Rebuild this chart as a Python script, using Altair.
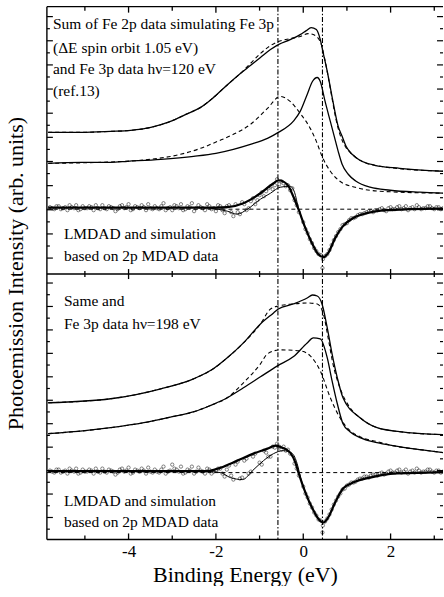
import altair as alt
import pandas as pd

FONT = "Liberation Serif"
XMIN, XMAX = -5.87, 3.2
OFF = 26.6          # height (intensity units) of the lower panel; upper panel is stacked above it
YMAX = 53.4

# ---------------- upper panel (Fe 3p hv=120 eV) ----------------
T1_E = [-5.84,-5.09,-4.41,-3.95,-3.49,-3.04,-2.69,-2.35,-2.08,-1.78,-1.44,-1.21,-0.98,-0.75,-0.57,-0.30,-0.07,0.07,0.18,0.30,0.39,0.46,0.55,0.68,0.80,0.89,0.98,1.12,1.30,1.64,2.21,3.22]
T1_I = [14.2,14.2,14.3,14.4,14.7,15.3,16.0,16.7,17.6,18.8,20.1,20.9,21.7,22.5,23.0,23.5,24.0,24.4,24.7,24.5,23.5,22.1,20.3,17.3,14.8,13.8,12.8,12.0,11.4,10.9,10.6,10.3]
T1D_E = [-5.84,-5.09,-4.41,-3.95,-3.49,-3.04,-2.69,-2.35,-2.08,-1.78,-1.44,-1.21,-0.98,-0.75,-0.57,-0.30,-0.07,0.11,0.23,0.39,0.48,0.57,0.66,0.75,0.84,0.96,1.12,1.30,1.76,3.22]
T1D_I = [14.2,14.2,14.3,14.4,14.7,15.3,16.0,16.7,17.6,18.8,20.1,21.1,22.1,22.9,23.3,23.6,23.8,24.1,24.0,23.3,21.8,19.8,17.6,15.5,14.0,12.8,12.0,11.4,10.8,10.3]
T2_E = [-5.84,-5.09,-4.41,-4.02,-3.26,-2.51,-2.0,-1.60,-1.21,-0.82,-0.57,-0.23,-0.07,0.09,0.21,0.32,0.39,0.50,0.62,0.71,0.80,0.89,1.03,1.21,1.53,1.99,2.67,3.22]
T2_I = [11.1,11.2,11.2,11.3,11.5,11.8,12.1,12.5,13.0,13.6,14.2,15.3,16.3,18.0,19.3,19.7,19.3,17.3,15.3,13.8,12.3,11.0,10.0,9.3,8.7,8.4,8.2,8.1]
T2D_E = [-5.84,-4.63,-3.49,-2.81,-2.35,-1.96,-1.60,-1.21,-0.82,-0.53,-0.30,-0.07,0.16,0.30,0.43,0.62,0.84,1.19,1.76,3.22]
T2D_I = [11.1,11.2,11.5,12.0,12.6,13.3,14.0,15.0,16.6,17.8,17.3,16.1,14.6,13.3,11.8,10.3,9.3,8.7,8.3,8.1]
TSIM_E = [-5.84,-2.0,-1.74,-1.37,-0.98,-0.68,-0.57,-0.37,-0.23,-0.11,0.05,0.21,0.34,0.46,0.57,0.73,0.91,1.14,1.46,1.92,2.44,3.22]
TSIM_I = [6.65,6.65,6.7,7.1,8.1,9.1,9.4,9.0,7.8,6.5,4.6,3.0,2.0,1.7,2.1,3.6,4.8,5.6,6.1,6.4,6.5,6.55]
TDAT_E = [-2.3,-2.12,-1.74,-1.51,-1.28,-0.98,-0.75,-0.53,-0.30,-0.20,-0.11,0.05]
TDAT_I = [6.65,6.6,6.3,6.0,6.5,7.5,8.1,8.7,8.8,8.2,6.6,4.6]
TCIRC_E = [-5.8,-5.7,-5.6,-5.5,-5.4,-5.3,-5.2,-5.1,-5.0,-4.9,-4.8,-4.7,-4.6,-4.5,-4.4,-4.3,-4.2,-4.1,-4.0,-3.9,-3.8,-3.7,-3.6,-3.5,-3.4,-3.3,-3.2,-3.1,-3.0,-2.9,-2.8,-2.7,-2.6,-2.5,-2.4,-2.3,-2.2,-2.1,-2.0,-1.9,-1.8,-1.7,-1.6,-1.5,-1.4,-1.3,-1.2,-1.1,-1.0,-0.9,-0.8,-0.7,-0.6,-0.5,-0.4,-0.3,-0.2,-0.1,0.0,0.1,0.2,0.3,0.4,0.5,0.6,0.7,0.8,0.9,1.0,1.1,1.2,1.3,1.4,1.5,1.6,1.7,1.8,1.9,2.0,2.1,2.2,2.3,2.4,2.5,2.6,2.7,2.8,2.9,3.0,3.1,3.2,
           -0.55,0.45,0.44,-0.25,-1.45,-1.05,-0.65,-0.35,-0.15,0.05,0.15,0.25,0.35,0.55,0.65,0.75,0.85,0.95,
           -5.75,-5.65,-5.55,-5.45,-5.35,-5.25,-5.15,-5.05,-4.95,-4.85,-4.75,-4.65,-4.55,-4.45,-4.35,-4.25,-4.15,-4.05,-3.95,-3.85,-3.75,-3.65,-3.55,-3.45,-3.35,-3.25,-3.15,-3.05,-2.95,-2.85,-2.75,-2.65,-2.55,-2.45,-2.35,-2.25,-2.15,-2.05,-1.95,-1.85,-1.75,-1.65,-1.55,-1.35,-1.25,-1.15,-0.95,-0.85,-0.75,-0.45,
           1.05,1.15,1.25,1.35,1.45,1.55,1.65,1.75,1.85,1.95,2.05,2.15,2.25,2.35,2.45,2.55,2.65,2.75,2.85,2.95,3.05,3.15]
TCIRC_I = [6.7,6.5,6.8,6.6,6.4,6.7,6.9,6.5,6.6,6.8,6.4,6.6,6.9,6.5,6.7,6.3,6.8,6.6,7.0,6.5,6.7,6.9,6.4,6.6,6.8,6.5,7.1,6.6,6.4,6.8,7.0,6.5,6.7,6.3,6.9,6.6,7.0,6.5,6.3,6.8,6.1,6.9,5.8,6.2,7.2,6.4,7.3,7.0,7.9,7.8,8.6,8.5,9.5,9.3,8.8,8.4,7.4,6.2,5.2,4.1,3.1,2.3,1.9,1.8,2.4,3.4,4.2,4.9,5.1,5.6,5.7,6.0,6.1,6.3,6.2,6.4,6.6,6.3,6.7,6.5,6.8,6.6,6.4,6.7,6.9,6.5,6.6,6.8,6.5,6.7,6.6,
           9.0,1.5,0.6,8.6,6.0,7.4,8.9,8.9,6.9,4.5,3.5,2.6,2.0,2.0,2.9,3.8,4.5,5.0,
           6.6,6.8,6.5,6.7,6.9,6.6,6.4,6.8,6.6,6.7,6.9,6.5,6.6,6.8,6.6,6.5,6.9,6.7,6.4,6.8,6.6,6.7,7.0,6.5,6.6,6.8,6.4,6.7,6.9,6.6,6.4,6.8,7.1,6.6,6.7,6.4,6.8,6.6,6.9,6.4,6.8,6.2,7.0,7.0,6.6,7.6,8.2,8.3,8.8,9.1,
           5.4,5.6,5.9,6.0,6.2,6.3,6.4,6.5,6.4,6.6,6.5,6.7,6.5,6.8,6.6,6.5,6.7,6.6,6.8,6.6,6.7,6.5]
T_BASE = [6.5]

# ---------------- lower panel (Fe 3p hv=198 eV) ----------------
B1_E = [-5.84,-4.41,-3.26,-2.51,-2.06,-1.74,-1.37,-0.98,-0.68,-0.57,-0.23,0.09,0.21,0.32,0.43,0.55,0.66,0.78,0.91,1.30,1.69,2.21,3.22]
B1_I = [13.7,14.1,15.1,16.1,17.1,18.2,19.7,21.6,22.7,23.1,23.6,24.2,24.5,24.4,23.6,21.2,18.6,16.2,14.2,12.2,11.2,10.8,10.5]
B1D_E = [-5.84,-4.41,-3.26,-2.51,-2.06,-1.74,-1.37,-0.98,-0.75,-0.57,-0.23,0.09,0.32,0.46,0.57,0.68,0.84,1.07,1.30,1.69,2.21,3.22]
B1D_I = [13.7,14.1,15.1,16.1,17.1,18.2,19.7,21.6,23.1,23.4,23.6,23.7,23.6,22.6,20.2,17.6,15.2,13.2,12.2,11.2,10.8,10.5]
B2_E = [-5.84,-5.0,-4.41,-3.65,-3.0,-2.5,-2.14,-1.74,-1.37,-0.98,-0.59,-0.23,0.09,0.23,0.39,0.55,0.66,0.78,0.91,1.07,1.30,1.69,2.05,2.67,3.22]
B2_I = [10.6,10.9,11.2,11.7,12.3,12.8,13.4,14.2,15.2,16.3,17.4,18.3,19.7,20.2,20.1,18.2,15.9,13.6,11.6,10.8,10.2,9.7,9.4,9.0,8.7]
B2D_E = [-5.84,-5.0,-4.41,-3.65,-3.0,-2.5,-2.14,-1.74,-1.37,-0.98,-0.82,-0.53,-0.07,0.16,0.39,0.62,0.84,1.07,1.30,1.69,2.05,2.67,3.22]
B2D_I = [10.6,10.9,11.2,11.7,12.3,12.8,13.4,14.2,15.7,17.6,18.6,19.0,18.9,18.4,16.9,14.2,12.2,10.9,10.3,9.8,9.4,9.0,8.7]
BSIM_E = [-5.84,-2.2,-1.89,-1.51,-1.14,-0.82,-0.64,-0.48,-0.30,-0.18,-0.11,0.05,0.21,0.34,0.46,0.57,0.73,0.91,1.14,1.53,2.05,2.83,3.22]
BSIM_I = [6.85,6.85,7.2,7.9,8.6,9.1,9.4,9.2,8.7,7.7,6.7,4.7,3.1,2.1,1.7,2.2,3.7,5.1,5.7,6.2,6.6,6.7,6.75]
BDAT_E = [-2.3,-1.89,-1.67,-1.39,-1.16,-0.91,-0.68,-0.46,-0.25,-0.14,-0.05,0.05]
BDAT_I = [6.85,6.7,6.2,6.0,6.9,7.9,8.6,8.9,8.6,7.6,6.0,4.7]
BCIRC_E = [-5.8,-5.7,-5.6,-5.5,-5.4,-5.3,-5.2,-5.1,-5.0,-4.9,-4.8,-4.7,-4.6,-4.5,-4.4,-4.3,-4.2,-4.1,-4.0,-3.9,-3.8,-3.7,-3.6,-3.5,-3.4,-3.3,-3.2,-3.1,-3.0,-2.9,-2.8,-2.7,-2.6,-2.5,-2.4,-2.3,-2.2,-2.1,-2.0,-1.9,-1.8,-1.7,-1.6,-1.5,-1.4,-1.3,-1.2,-1.1,-1.0,-0.9,-0.8,-0.7,-0.6,-0.5,-0.4,-0.3,-0.2,-0.1,0.0,0.1,0.2,0.3,0.4,0.5,0.6,0.7,0.8,0.9,1.0,1.1,1.2,1.3,1.4,1.5,1.6,1.7,1.8,1.9,2.0,2.1,2.2,2.3,2.4,2.5,2.6,2.7,2.8,2.9,3.0,3.1,3.2,
           0.45,0.44,-0.55,-0.35,-0.15,0.05,0.15,0.25,0.35,0.55,0.65,0.75,0.85,0.95,-1.45,-1.25,-0.95,-0.75,
           -5.75,-5.65,-5.55,-5.45,-5.35,-5.25,-5.15,-5.05,-4.95,-4.85,-4.75,-4.65,-4.55,-4.45,-4.35,-4.25,-4.15,-4.05,-3.95,-3.85,-3.75,-3.65,-3.55,-3.45,-3.35,-3.25,-3.15,-3.05,-2.95,-2.85,-2.75,-2.65,-2.55,-2.45,-2.35,-2.25,-2.15,-2.05,-1.95,-1.85,-1.75,-1.65,-1.55,-1.35,-1.15,-0.85,-0.65,-0.45,
           1.05,1.15,1.25,1.35,1.45,1.55,1.65,1.75,1.85,1.95,2.05,2.15,2.25,2.35,2.45,2.55,2.65,2.75,2.85,2.95,3.05,3.15]
BCIRC_I = [6.9,6.7,7.0,6.8,6.6,6.9,7.1,6.7,6.8,7.0,6.6,6.8,7.1,6.7,6.9,6.5,7.0,6.8,7.2,6.7,6.9,7.1,6.6,6.8,7.0,6.7,7.3,6.8,7.5,7.0,7.3,6.7,6.9,6.6,7.2,6.8,7.1,6.6,6.9,7.1,6.3,7.4,6.0,7.8,6.2,8.1,6.8,8.6,7.7,8.9,8.3,9.3,9.6,9.0,8.9,8.6,7.6,6.4,5.3,4.2,3.2,2.4,1.9,1.8,2.5,3.5,4.3,5.0,5.4,5.7,5.8,6.1,6.3,6.2,6.5,6.4,6.7,6.6,6.9,6.7,7.0,6.8,6.6,6.9,7.1,6.7,6.8,7.0,6.7,6.9,6.8,
           1.4,0.7,9.3,9.0,7.1,4.6,3.6,2.7,2.0,2.1,3.0,3.9,4.6,5.1,6.1,6.6,7.5,8.3,
           6.8,7.0,6.7,6.9,7.1,6.8,6.6,7.0,6.8,6.9,7.1,6.7,6.8,7.0,6.8,6.7,7.1,6.9,6.6,7.0,6.8,6.9,7.2,6.7,6.8,7.0,6.6,6.9,7.1,6.8,6.6,7.0,7.3,6.8,6.9,6.6,7.0,6.8,7.1,6.6,7.0,6.4,7.5,7.9,8.3,8.7,9.2,9.3,
           5.5,5.7,6.0,6.1,6.3,6.4,6.5,6.6,6.5,6.8,6.7,6.9,6.7,7.0,6.8,6.7,6.9,6.8,7.0,6.8,6.9,6.7]
B_BASE = [6.7]

# ---------------- decorations ----------------
X_MAJOR = [-4, -2, 0, 2]
X_MINOR = [-5, -3, -1, 1, 3]
VLINES = [-0.58, 0.44]
T_YMAJ = [1.6, 4.02, 6.44, 8.86, 11.28, 13.7, 16.12, 18.54, 20.96, 23.38, 25.8]
T_YMIN = [2.81, 5.23, 7.65, 10.07, 12.49, 14.91, 17.33, 19.75, 22.17, 24.59]
B_YMAJ = [2.2, 4.55, 6.9, 9.25, 11.6, 13.95, 16.3, 18.65, 21.0, 23.35, 25.7]
B_YMIN = [1.03, 3.38, 5.73, 8.08, 10.43, 12.78, 15.13, 17.48, 19.83, 22.18, 24.53]
ANNOT_TEXT = ["Sum of Fe 2p data simulating Fe 3p", "(\u0394E spin orbit 1.05 eV)", "and Fe 3p data h\u03bd=120 eV", "(ref.13)",
              "LMDAD and simulation", "based on 2p MDAD data",
              "Same and", "Fe 3p data h\u03bd=198 eV",
              "LMDAD and simulation", "based on 2p MDAD data"]
ANNOT_E = [-5.73, -5.73, -5.73, -5.73, -5.48, -5.48, -5.48, -5.48, -5.48, -5.48]
ANNOT_I = [25.1, 22.7, 20.5, 18.3, 4.0, 1.8, 23.9, 21.6, 3.9, 1.7]
ANNOT_P = ["top"] * 6 + ["bot"] * 4

def frame(panel, name, E, I):
    return pd.DataFrame({"E": E, "I": I, "panel": panel, "series": name})

solid = pd.concat([frame("top", "T1", T1_E, T1_I), frame("top", "T2", T2_E, T2_I),
                   frame("bot", "B1", B1_E, B1_I), frame("bot", "B2", B2_E, B2_I)])
dashed = pd.concat([frame("top", "T1D", T1D_E, T1D_I), frame("top", "T2D", T2D_E, T2D_I),
                    frame("bot", "B1D", B1D_E, B1D_I), frame("bot", "B2D", B2D_E, B2D_I)])
simline = pd.concat([frame("top", "TS", TSIM_E, TSIM_I), frame("bot", "BS", BSIM_E, BSIM_I)])
datline = pd.concat([frame("top", "TD", TDAT_E, TDAT_I), frame("bot", "BD", BDAT_E, BDAT_I)])
circles = pd.concat([frame("top", "TC", TCIRC_E, TCIRC_I), frame("bot", "BC", BCIRC_E, BCIRC_I)])
bases = pd.DataFrame({"I": T_BASE + B_BASE, "panel": ["top", "bot"]})
ymaj = pd.DataFrame({"I": T_YMAJ + B_YMAJ, "panel": ["top"] * len(T_YMAJ) + ["bot"] * len(B_YMAJ)})
ymin = pd.DataFrame({"I": T_YMIN + B_YMIN, "panel": ["top"] * len(T_YMIN) + ["bot"] * len(B_YMIN)})
annot = pd.DataFrame({"E": ANNOT_E, "I": ANNOT_I, "panel": ANNOT_P, "text": ANNOT_TEXT})

YCALC = "datum.panel == 'top' ? datum.I + %s : datum.I" % OFF

X_ENC = alt.X("E:Q", scale=alt.Scale(domain=[XMIN, XMAX], nice=False, zero=False),
              axis=alt.Axis(values=X_MAJOR, ticks=False, domain=False, grid=False,
                            labelExpr="toString(datum.value)", labelFont=FONT, labelFontSize=17,
                            labelPadding=4, labelColor="black",
                            title="Binding Energy (eV)", titleFont=FONT, titleFontSize=22,
                            titleFontWeight="normal", titlePadding=5, titleColor="black"))
Y_ENC = alt.Y("Y:Q", scale=alt.Scale(domain=[0, YMAX], nice=False, zero=False),
              axis=alt.Axis(ticks=False, labels=False, domain=False, grid=False,
                            title="Photoemission Intensity (arb. units)", titleFont=FONT,
                            titleFontSize=22, titleFontWeight="normal", titlePadding=19,
                            titleColor="black"))

def pdata(df):
    return alt.Chart(df).transform_calculate(Y=YCALC)

layers = []
layers.append(pdata(solid).mark_line(color="black", strokeWidth=1.3, interpolate="monotone", clip=True)
              .encode(x=X_ENC, y=Y_ENC, detail="series:N"))
layers.append(pdata(dashed).mark_line(color="black", strokeWidth=1.1, strokeDash=[4, 3], interpolate="monotone", clip=True)
              .encode(x=X_ENC, y=Y_ENC, detail="series:N"))
layers.append(pdata(bases).mark_rule(color="black", strokeWidth=1.0, strokeDash=[4, 3])
              .encode(y=Y_ENC, x=alt.value(0), x2=alt.value(397)))
layers.append(pdata(datline).mark_line(color="black", strokeWidth=1.0, interpolate="monotone", clip=True)
              .encode(x=X_ENC, y=Y_ENC, detail="series:N"))
layers.append(pdata(simline).mark_line(color="black", strokeWidth=2.2, interpolate="monotone", clip=True)
              .encode(x=X_ENC, y=Y_ENC, detail="series:N"))
layers.append(pdata(circles).mark_point(shape="circle", filled=False, color="black", size=11, strokeWidth=0.7, clip=True)
              .encode(x=X_ENC, y=Y_ENC))
vl = pd.DataFrame({"E": VLINES})
layers.append(alt.Chart(vl).mark_rule(color="black", strokeWidth=1.1, strokeDash=[5, 2, 1.5, 2])
              .encode(x=X_ENC, y=alt.value(0), y2=alt.value(534)))

# frame (no right edge visible in reference) and panel divider
one = pd.DataFrame({"k": [0]})
layers.append(alt.Chart(one).mark_rule(color="black", strokeWidth=1.4)
              .encode(x=alt.value(0), y=alt.value(0), y2=alt.value(534)))
for yy in (0, 268, 534):
    layers.append(alt.Chart(one).mark_rule(color="black", strokeWidth=1.4)
                  .encode(y=alt.value(yy), x=alt.value(0), x2=alt.value(397)))

# x ticks (inward) at top, divider and bottom
xmaj = pd.DataFrame({"E": X_MAJOR})
xmin = pd.DataFrame({"E": X_MINOR})
for df, ln in ((xmaj, 6), (xmin, 4)):
    layers.append(alt.Chart(df).mark_rule(color="black", strokeWidth=1.3)
                  .encode(x=X_ENC, y=alt.value(0), y2=alt.value(ln)))
    layers.append(alt.Chart(df).mark_rule(color="black", strokeWidth=1.3)
                  .encode(x=X_ENC, y=alt.value(534 - ln), y2=alt.value(534)))
    layers.append(alt.Chart(df).mark_rule(color="black", strokeWidth=1.3)
                  .encode(x=X_ENC, y=alt.value(268 - ln + 1), y2=alt.value(268 + ln - 1)))

# y ticks (inward) left and right
for df, ln in ((ymaj, 6), (ymin, 3)):
    layers.append(pdata(df).mark_rule(color="black", strokeWidth=1.2)
                  .encode(y=Y_ENC, x=alt.value(0), x2=alt.value(ln)))
    layers.append(pdata(df).mark_rule(color="black", strokeWidth=1.2)
                  .encode(y=Y_ENC, x=alt.value(397 - ln), x2=alt.value(397)))

layers.append(pdata(annot).mark_text(align="left", baseline="middle", font=FONT, fontSize=15.5, color="black")
              .encode(x=X_ENC, y=Y_ENC, text="text:N"))

chart = alt.layer(*layers).properties(
    width=397, height=534,
    padding={"left": 5, "top": 5, "right": 0, "bottom": 0},
    background="white",
).configure_view(stroke=None)

chart.save("out.html", embed_options={"renderer": "svg", "actions": False})
